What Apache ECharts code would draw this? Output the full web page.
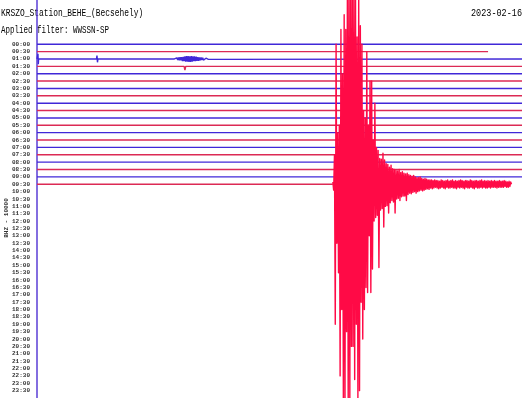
<!DOCTYPE html>
<html>
<head>
<meta charset="utf-8">
<script src="https://cdn.jsdelivr.net/npm/echarts@6/dist/echarts.min.js"></script>
<style>html,body{margin:0;padding:0;background:#fff}#c{width:525px;height:398px}</style>
</head>
<body>
<div id="c"></div>
<script>
// ---- data ----
const titleText = 'KRSZO_Station_BEHE_(Becsehely)';
const filterText = 'Applied filter: WWSSN-SP';
const dateText = '2023-02-16';
const channelText = 'BHZ - 10000';
const rowLabels = ['00:00','00:30','01:00','01:30','02:00','02:30','03:00','03:30','04:00','04:30',
  '05:00','05:30','06:00','06:30','07:00','07:30','08:00','08:30','09:00','09:30',
  '10:00','10:30','11:00','11:30','12:00','12:30','13:00','13:30','14:00','14:30',
  '15:00','15:30','16:00','16:30','17:00','17:30','18:00','18:30','19:00','19:30',
  '20:00','20:30','21:00','21:30','22:00','22:30','23:00','23:30'];
// minute (0-30) where each recorded row's quiet trace ends
const traceEnd = [30,27.9,30,30,30,30,30,30,30,30,30,30,30,30,30,30,30,30,30,18.3];
// small events on quiet rows: [minute, amplitude in row units, up positive]
const row2Ticks = [[0.04,0],[0.06,0.7],[0.08,-0.7],[0.1,0],[3.68,0],[3.71,0.45],[3.74,-0.45],[3.77,0]];
const blobStart = 8.5;
const blobStep = 0.05;
const blobAmp = [0,0.1,-0.1,0.15,-0.15,0.2,-0.2,0.25,-0.2,0.25,-0.3,0.3,-0.3,0.35,-0.35,0.4,-0.35,0.4,-0.4,0.35,
  -0.4,0.4,-0.35,0.35,-0.3,0.35,-0.3,0.3,-0.25,0.25,-0.25,0.2,-0.2,0.2,-0.15,0.15,-0.15,0.1,-0.1,0.1,
  -0.1,0.05,-0.05,0.05,0];
const row3Events = [[9.1,0],[9.15,-0.5],[9.2,0]];
// earthquake on the 09:30 row
const eqStart = 18.3;
const eqStep = 0.05;
const eqAmp = [
 0.3,-0.8,4,-19,19,-8,7,-12,8,-26,
 21,-17,15,-29,23,-31,21,-20,27,-31,
 27,-30,27,-22,27,-22,26,-26.5,27,-19,
 20,-29,26,-28,21.5,-16,19,-21,10,-17,
 9,-14,18,-14.7,8,-7,14,-14.7,14,-11.5,
 6,-5,11,-4.5,5,-4.2,4.6,-11.3,3.5,-3.5,
 3.4,-3.3,4.2,-5.8,3.3,-3,2.8,-2.9,2.7,-3.9,
 2.3,-2.5,2.6,-2.2,2.1,-2.4,2,-3.9,1.9,-2,
 1.8,-1.9,2,-2.2,1.6,-1.7,1.7,-1.6,1.5,-1.6,
 1.4,-2.2,1.5,-1.4,1.3,-1.2,1.2,-1.3,1.1,-1.1,
 1.2,-1,1,-1.2,0.9,-1,0.9,-0.9,1,-0.8,
 0.8,-0.9,0.7,-0.8,0.8,-0.7,0.7,-0.6,0.6,-0.7,
 0.6,-0.5,0.6,-0.6,0.5,-0.5,0.6,-0.4,0.5,-0.5,
 0.5,-0.6,0.4,-0.5,0.6,-0.4,0.5,-0.5,0.4,-0.6,
 0.5,-0.4,0.6,-0.5,0.4,-0.5,0.5,-0.4,0.6,-0.5,
 0.4,-0.5,0.5,-0.6,0.4,-0.4,0.5,-0.5,0.6,-0.4,
 0.5,-0.5,0.4,-0.6,0.5,-0.4,0.5,-0.5,0.4,-0.5,
 0.6,-0.4,0.5,-0.5,0.4,-0.6,0.5,-0.4,0.5,-0.5,
 0.4,-0.5,0.5,-0.4,0.6,-0.5,0.4,-0.4,0.5,-0.5,
 0.4,-0.5,0.5,-0.4,0.4,-0.5,0.5,-0.4,0.4,-0.4,
 0.5,-0.4,0.4,-0.5,0.4,-0.4,0.5,-0.4,0.4,-0.4,
 0.4,-0.4,0.5,-0.3,0.4,-0.4,0.3,-0.4,0.4,-0.3,
 0.3,0
];

// ---- build ----
const BLUE = '#4028d8', RED = '#dc2a55', EQ = '#ff0a46';
const series = [];
for (let r = 0; r < traceEnd.length; r++) {
  let pts = [[0, 0]];
  if (r === 2) {
    pts = pts.concat(row2Ticks);
    pts = pts.concat(blobAmp.map((a, i) => [blobStart + i * blobStep, a]));
  }
  if (r === 3) pts = pts.concat(row3Events);
  pts.push([traceEnd[r], 0]);
  series.push({
    type: 'line', showSymbol: false, silent: true, animation: false,
    data: pts.map(p => [p[0], r - p[1]]),
    lineStyle: { width: 1.4, color: r % 2 === 0 ? BLUE : RED }
  });
}
const eqRow = traceEnd.length - 1;
series.push({
  type: 'line', showSymbol: false, silent: true, animation: false, z: 5,
  data: eqAmp.map((a, i) => [eqStart + i * eqStep, eqRow - a]),
  lineStyle: { width: 1.4, color: EQ, join: 'round' }
});

const chart = echarts.init(document.getElementById('c'), null, { renderer: 'canvas' });
chart.setOption({
  backgroundColor: '#ffffff',
  animation: false,
  grid: { left: 37, right: 3, top: 0, bottom: 0 },
  xAxis: { type: 'value', min: 0, max: 30, show: false },
  yAxis: {
    type: 'value', inverse: true, min: -6, max: 48, interval: 1,
    axisLine: { show: true, lineStyle: { color: '#5a3ed6', width: 1.5 } },
    axisTick: { show: false },
    splitLine: { show: false },
    axisLabel: {
      margin: 7, fontSize: 6, color: '#333', fontFamily: 'Liberation Mono', fontWeight: 'bold',
      formatter: v => (v >= 0 && v < rowLabels.length) ? rowLabels[v] : ''
    }
  },
  graphic: [
    { type: 'text', x: 1, y: 13, scaleX: 0.79,
      style: { text: titleText, font: '10px "Liberation Mono"', fill: '#000', verticalAlign: 'middle' } },
    { type: 'text', x: 1, y: 30, scaleX: 0.75,
      style: { text: filterText, font: '10px "Liberation Mono"', fill: '#000', verticalAlign: 'middle' } },
    { type: 'text', x: 522, y: 13, scaleX: 0.85,
      style: { text: dateText, font: '10px "Liberation Mono"', fill: '#000', align: 'right', verticalAlign: 'middle' } },
    { type: 'text', x: 6, y: 218, rotation: Math.PI / 2,
      style: { text: channelText, font: 'bold 6px "Liberation Mono"', fill: '#333', align: 'center', verticalAlign: 'middle' } }
  ],
  series: series
});
</script>
</body>
</html>
